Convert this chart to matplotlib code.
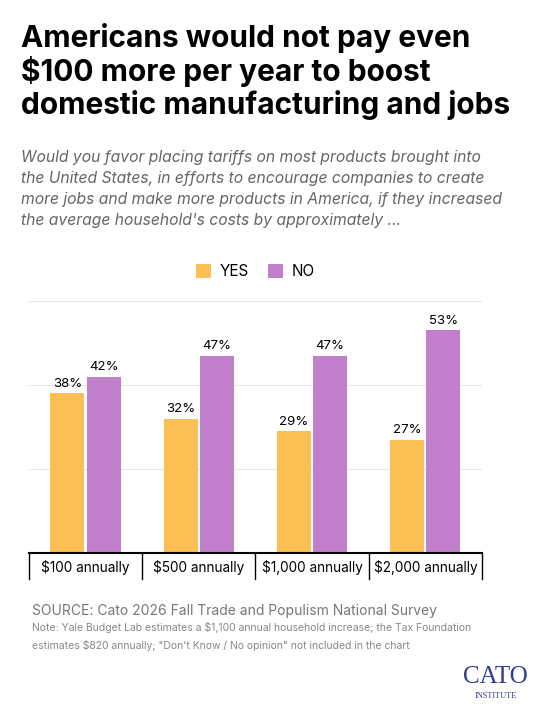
import matplotlib
matplotlib.use('Agg')
import matplotlib.pyplot as plt
import numpy as np

plt.rcParams['font.family'] = ['Inter', 'DejaVu Sans']

categories = ['$100 annually', '$500 annually', '$1,000 annually', '$2,000 annually']
yes = [38, 32, 29, 27]
no = [42, 47, 47, 53]

fig = plt.figure(figsize=(5.54, 7.2), dpi=100)

# titulo e subtitulo
fig.text(0.038, 0.968, 'Americans would not pay even\n$100 more per year to boost\ndomestic manufacturing and jobs',
         fontsize=21.5, fontweight='bold', va='top', linespacing=1.13, color='black')
fig.text(0.038, 0.792, "Would you favor placing tariffs on most products brought into\n"
         "the United States, in efforts to encourage companies to create\n"
         "more jobs and make more products in America, if they increased\n"
         "the average household's costs by approximately ...",
         fontsize=11.3, style='italic', color='#666666', va='top', linespacing=1.5)

ax = fig.add_axes([0.052, 0.232, 0.818, 0.35])
x = np.arange(len(categories))
w = 0.3
ax.bar(x - w/2 - 0.01, yes, w, color='#FBBF54', label='YES')
ax.bar(x + w/2 + 0.01, no, w, color='#C17FCB', label='NO')
for i in range(len(categories)):
    ax.text(x[i] - w/2 - 0.01, yes[i] + 0.8, f'{yes[i]}%', ha='center', va='bottom', fontsize=9.5)
    ax.text(x[i] + w/2 + 0.01, no[i] + 0.8, f'{no[i]}%', ha='center', va='bottom', fontsize=9.5)

ax.set_xlim(-0.5, 3.5)
ax.set_ylim(0, 60)
ax.set_yticks([20, 40, 60])
ax.yaxis.grid(True, color='#e6e6e6', lw=0.8)
ax.set_axisbelow(True)
ax.tick_params(left=False, labelleft=False, bottom=False, labelbottom=False)
for s in ['top', 'right', 'left']:
    ax.spines[s].set_visible(False)
ax.spines['bottom'].set_linewidth(1.5)

# caixas dos rotulos das categorias
for b in [-0.5, 0.5, 1.5, 2.5, 3.5]:
    ax.plot([b, b], [0, -6.3], color='black', lw=1, clip_on=False)
for i, c in enumerate(categories):
    ax.text(x[i], -3.5, c, ha='center', va='center', fontsize=9.8)

leg = ax.legend(loc='upper center', bbox_to_anchor=(0.5, 1.2), ncol=2, frameon=False,
                fontsize=11, handlelength=1.0, handleheight=1.0, columnspacing=1.2, handletextpad=0.6)

fig.text(0.057, 0.146, 'SOURCE: Cato 2026 Fall Trade and Populism National Survey', fontsize=10, color='#777777')
fig.text(0.057, 0.116, "Note: Yale Budget Lab estimates a $1,100 annual household increase; the Tax Foundation\n"
         "estimates $820 annually; \"Don't Know / No opinion\" not included in the chart",
         fontsize=7.5, color='#888888', va='center', linespacing=1.7)
fig.text(0.895, 0.052, 'CATO', fontsize=18, family='Liberation Serif', color='#2f3c8f', ha='center')
fig.text(0.895, 0.030, 'INSTITUTE', fontsize=6, family='Liberation Serif', color='#2f3c8f', ha='center')

fig.savefig('out.png', dpi=100)
